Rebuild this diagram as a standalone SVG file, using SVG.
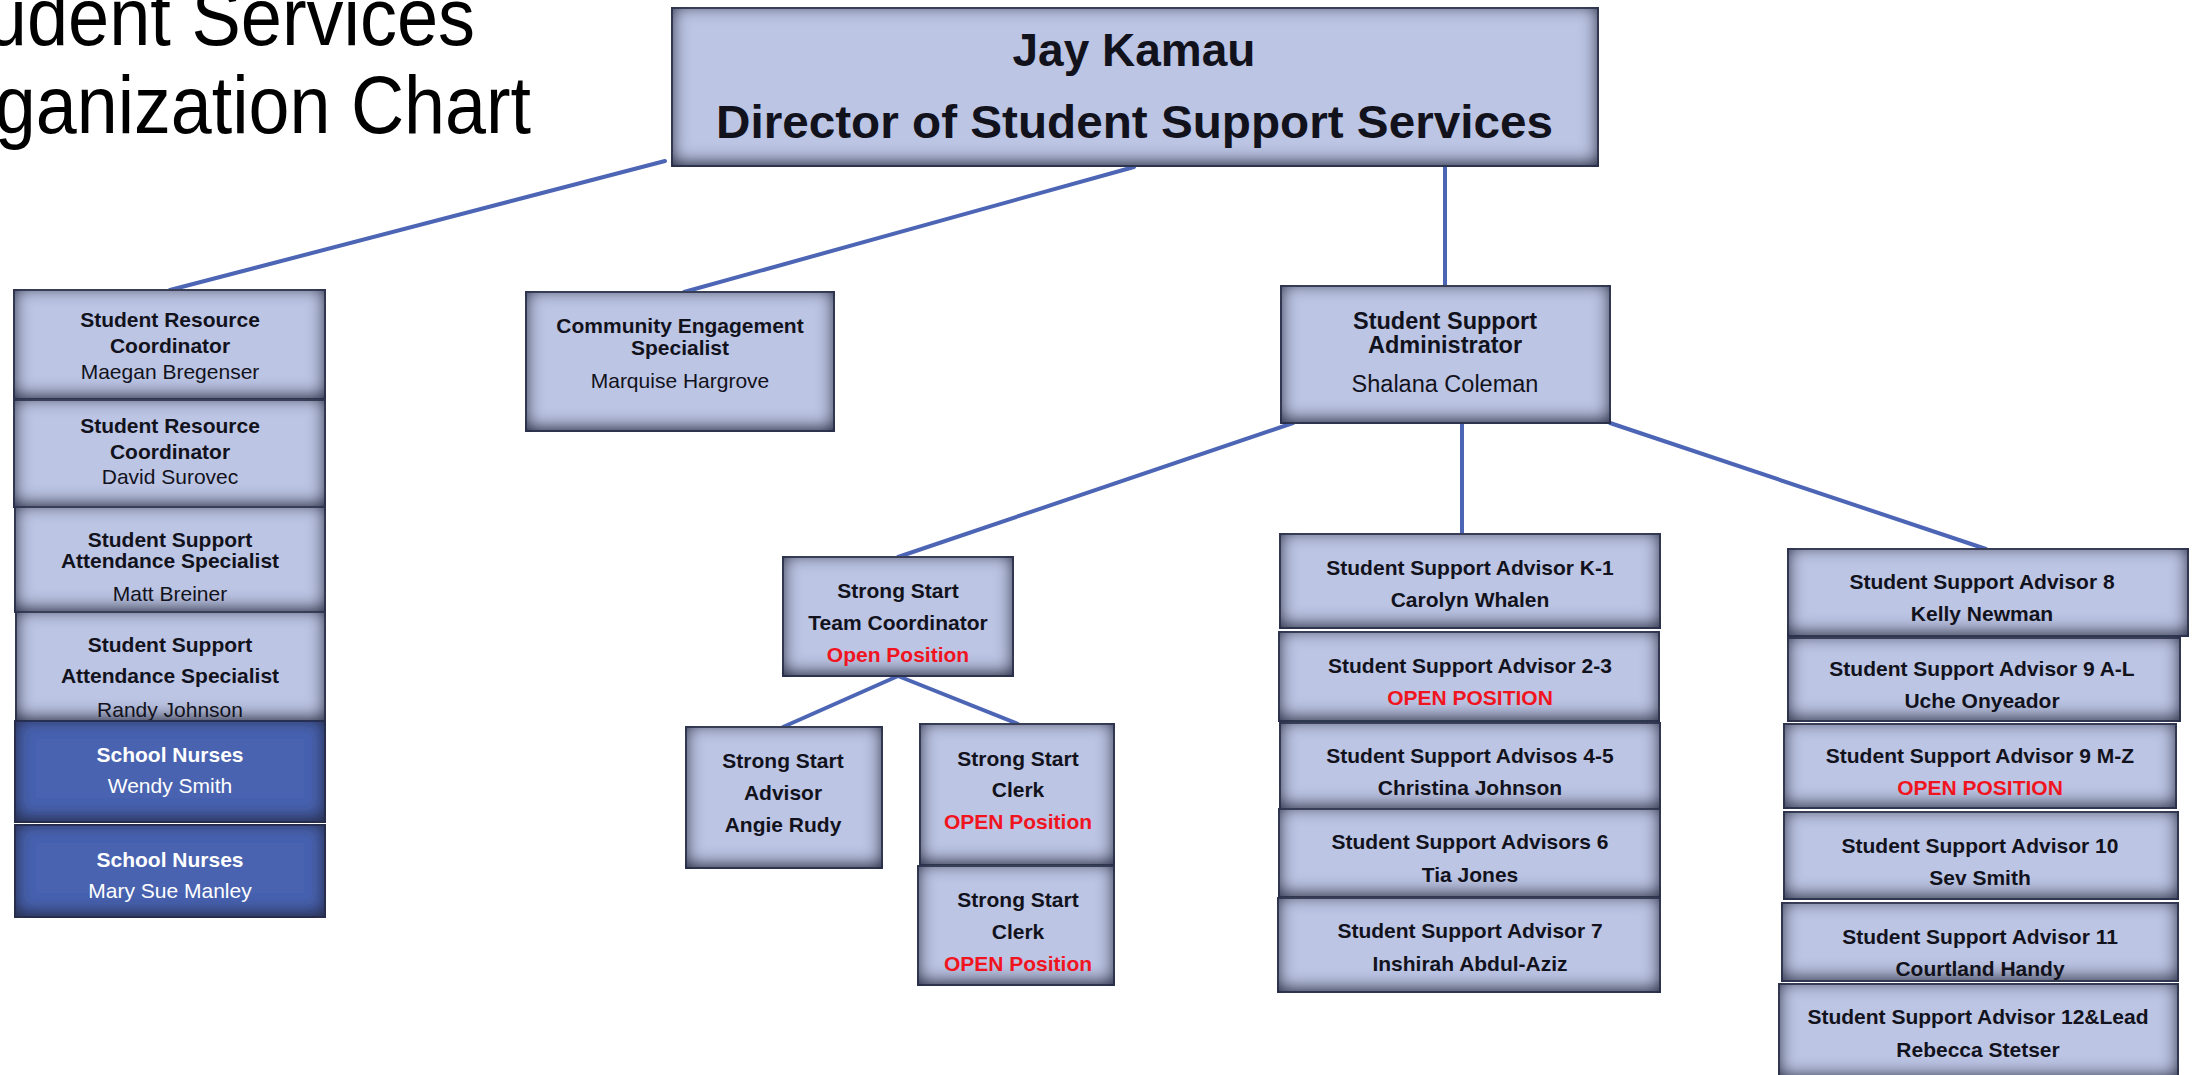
<svg xmlns="http://www.w3.org/2000/svg" width="2195" height="1075" viewBox="0 0 2195 1075">
<defs>
<style>
.t{font-family:"Liberation Sans",Arial,sans-serif;font-size:21px;fill:#12121c;text-anchor:middle}
.b{font-weight:bold}
.red{fill:#f0141e;font-weight:bold}
.w{fill:#ffffff}
.box{fill:#bcc5e4;stroke:#4a4f66;stroke-width:2;filter:url(#ins)}
.nb{fill:#4a64b0;stroke:#2a3560;stroke-width:2;filter:url(#ins)}
.c{stroke:#4d65b5;stroke-width:4;fill:none;stroke-linecap:round}
</style>
<filter id="ins" x="-15%" y="-20%" width="130%" height="140%">
<feComponentTransfer in="SourceAlpha" result="inv"><feFuncA type="table" tableValues="1 0"/></feComponentTransfer>
<feOffset in="inv" dx="0" dy="-3" result="off"/>
<feGaussianBlur in="off" stdDeviation="9" result="blur"/>
<feFlood flood-color="#2a2f4a" flood-opacity="1" result="col"/>
<feComposite in="col" in2="blur" operator="in" result="sh"/>
<feComposite in="sh" in2="SourceAlpha" operator="in" result="ish"/>
<feMerge><feMergeNode in="SourceGraphic"/><feMergeNode in="ish"/><feMergeNode in="ish"/></feMerge>
</filter>
</defs>
<rect x="0" y="0" width="2195" height="1075" fill="#ffffff"/>

<g id="title" font-family="'Liberation Sans',Arial,sans-serif" font-size="81" fill="#000">
<text x="-84" y="45" textLength="559" lengthAdjust="spacingAndGlyphs">Student Services</text>
<text x="-87" y="133" textLength="618" lengthAdjust="spacingAndGlyphs">Organization Chart</text>
</g>

<g id="connectors">
<line class="c" x1="665" y1="161" x2="170" y2="290"/>
<line class="c" x1="1134" y1="167" x2="684" y2="292"/>
<line class="c" x1="1445" y1="166" x2="1445" y2="286"/>
<line class="c" x1="1293" y1="423" x2="898" y2="557"/>
<line class="c" x1="1462" y1="424" x2="1462" y2="534"/>
<line class="c" x1="1610" y1="423" x2="1986" y2="549"/>
<line class="c" x1="898" y1="676" x2="783" y2="727"/>
<line class="c" x1="898" y1="676" x2="1018" y2="724"/>
</g>

<g id="director">
<rect class="box" x="672" y="8" width="926" height="158"/>
<text class="t b" x="1134" y="66" style="font-size:46px">Jay Kamau</text>
<text class="t b" x="716" y="138" style="font-size:46px;text-anchor:start" textLength="837" lengthAdjust="spacingAndGlyphs">Director of Student Support Services</text>
</g>

<g id="src1">
<rect class="box" x="14" y="290" width="311" height="109"/>
<text class="t b" x="170" y="327">Student Resource</text>
<text class="t b" x="170" y="353">Coordinator</text>
<text class="t" x="170" y="379">Maegan Bregenser</text>
</g>
<g id="src2">
<rect class="box" x="14" y="400" width="311" height="107"/>
<text class="t b" x="170" y="433">Student Resource</text>
<text class="t b" x="170" y="459">Coordinator</text>
<text class="t" x="170" y="484">David Surovec</text>
</g>
<g id="attend1">
<rect class="box" x="15" y="507" width="310" height="105"/>
<text class="t b" x="170" y="547">Student Support</text>
<text class="t b" x="170" y="568">Attendance Specialist</text>
<text class="t" x="170" y="601">Matt Breiner</text>
</g>
<g id="attend2">
<rect class="box" x="16" y="612" width="309" height="109"/>
<text class="t b" x="170" y="652">Student Support</text>
<text class="t b" x="170" y="683">Attendance Specialist</text>
<text class="t" x="170" y="717">Randy Johnson</text>
</g>
<g id="nurse1">
<rect class="nb" x="15" y="721" width="310" height="101"/>
<text class="t b w" x="170" y="762">School Nurses</text>
<text class="t w" x="170" y="793">Wendy Smith</text>
</g>
<g id="nurse2">
<rect class="nb" x="15" y="825" width="310" height="92"/>
<text class="t b w" x="170" y="867">School Nurses</text>
<text class="t w" x="170" y="898">Mary Sue Manley</text>
</g>

<g id="community">
<rect class="box" x="526" y="292" width="308" height="139"/>
<text class="t b" x="680" y="333">Community Engagement</text>
<text class="t b" x="680" y="355">Specialist</text>
<text class="t" x="680" y="388">Marquise Hargrove</text>
</g>

<g id="administrator">
<rect class="box" x="1281" y="286" width="329" height="137"/>
<text class="t b" x="1445" y="329" style="font-size:23.5px">Student Support</text>
<text class="t b" x="1445" y="353" style="font-size:23.5px">Administrator</text>
<text class="t" x="1445" y="392" style="font-size:23.5px">Shalana Coleman</text>
</g>

<g id="ss-coordinator">
<rect class="box" x="783" y="557" width="230" height="119"/>
<text class="t b" x="898" y="598">Strong Start</text>
<text class="t b" x="898" y="630">Team Coordinator</text>
<text class="t red" x="898" y="662">Open Position</text>
</g>
<g id="ss-advisor">
<rect class="box" x="686" y="727" width="196" height="141"/>
<text class="t b" x="783" y="768">Strong Start</text>
<text class="t b" x="783" y="800">Advisor</text>
<text class="t b" x="783" y="832">Angie Rudy</text>
</g>
<g id="ss-clerk1">
<rect class="box" x="920" y="724" width="194" height="141"/>
<text class="t b" x="1018" y="766">Strong Start</text>
<text class="t b" x="1018" y="797">Clerk</text>
<text class="t red" x="1018" y="829">OPEN Position</text>
</g>
<g id="ss-clerk2">
<rect class="box" x="918" y="866" width="196" height="119"/>
<text class="t b" x="1018" y="907">Strong Start</text>
<text class="t b" x="1018" y="939">Clerk</text>
<text class="t red" x="1018" y="971">OPEN Position</text>
</g>

<g id="adv-k1">
<rect class="box" x="1280" y="534" width="380" height="94"/>
<text class="t b" x="1470" y="575">Student Support Advisor K-1</text>
<text class="t b" x="1470" y="607">Carolyn Whalen</text>
</g>
<g id="adv-23">
<rect class="box" x="1279" y="632" width="380" height="89"/>
<text class="t b" x="1470" y="673">Student Support Advisor 2-3</text>
<text class="t red" x="1470" y="705">OPEN POSITION</text>
</g>
<g id="adv-45">
<rect class="box" x="1280" y="723" width="380" height="86"/>
<text class="t b" x="1470" y="763">Student Support Advisos 4-5</text>
<text class="t b" x="1470" y="795">Christina Johnson</text>
</g>
<g id="adv-6">
<rect class="box" x="1279" y="809" width="381" height="88"/>
<text class="t b" x="1470" y="849">Student Support Advisors 6</text>
<text class="t b" x="1470" y="882">Tia Jones</text>
</g>
<g id="adv-7">
<rect class="box" x="1278" y="898" width="382" height="94"/>
<text class="t b" x="1470" y="938">Student Support Advisor 7</text>
<text class="t b" x="1470" y="971">Inshirah Abdul-Aziz</text>
</g>

<g id="adv-8">
<rect class="box" x="1788" y="549" width="400" height="87"/>
<text class="t b" x="1982" y="589">Student Support Advisor 8</text>
<text class="t b" x="1982" y="621">Kelly Newman</text>
</g>
<g id="adv-9al">
<rect class="box" x="1788" y="638" width="392" height="83"/>
<text class="t b" x="1982" y="676">Student Support Advisor 9 A-L</text>
<text class="t b" x="1982" y="708">Uche Onyeador</text>
</g>
<g id="adv-9mz">
<rect class="box" x="1784" y="724" width="392" height="84"/>
<text class="t b" x="1980" y="763">Student Support Advisor 9 M-Z</text>
<text class="t red" x="1980" y="795">OPEN POSITION</text>
</g>
<g id="adv-10">
<rect class="box" x="1784" y="812" width="394" height="87"/>
<text class="t b" x="1980" y="853">Student Support Advisor 10</text>
<text class="t b" x="1980" y="885">Sev Smith</text>
</g>
<g id="adv-11">
<rect class="box" x="1782" y="903" width="396" height="78"/>
<text class="t b" x="1980" y="944">Student Support Advisor 11</text>
<text class="t b" x="1980" y="976">Courtland Handy</text>
</g>
<g id="adv-12">
<rect class="box" x="1779" y="984" width="399" height="95"/>
<text class="t b" x="1978" y="1024">Student Support Advisor 12&amp;Lead</text>
<text class="t b" x="1978" y="1057">Rebecca Stetser</text>
</g>
</svg>
